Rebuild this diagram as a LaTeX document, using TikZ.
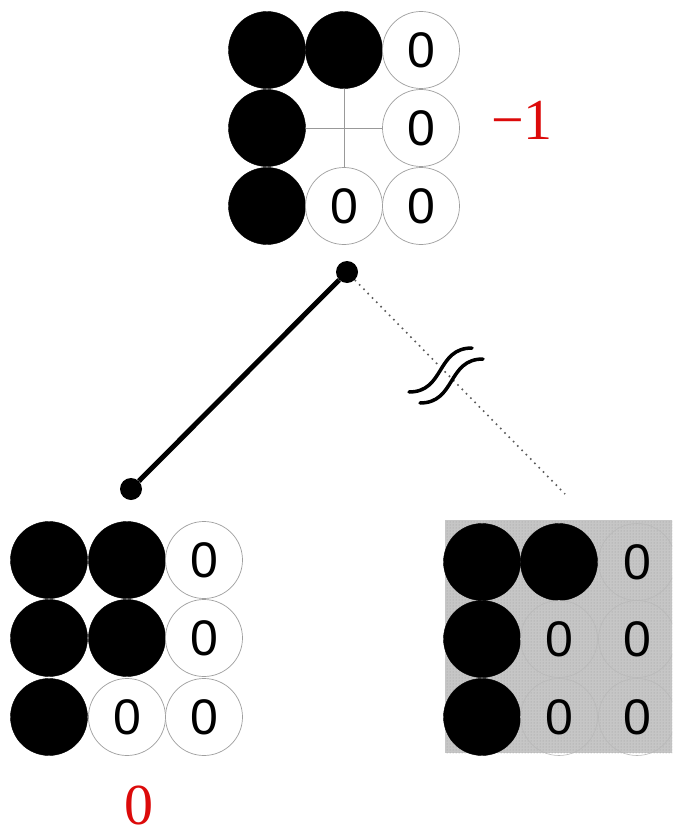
\documentclass[tikz,border=0pt]{standalone}
\usepackage{fontspec}
\setmainfont{Liberation Serif}
\newfontfamily\digitfont{Liberation Sans}
\usetikzlibrary{patterns}
\definecolor{lblred}{RGB}{220,10,10}
\begin{document}
\begin{tikzpicture}[x=1pt,y=-1pt,
  blk/.style={circle,minimum size=77pt,inner sep=0pt,fill=black,draw=black},
  wht/.style={circle,minimum size=77pt,inner sep=0pt,fill=white,draw=gray!75,line width=0.7pt,font=\digitfont\fontsize{50}{50}\selectfont},
  shd/.style={circle,minimum size=77pt,inner sep=0pt,draw=gray!55,line width=0.6pt,font=\digitfont\fontsize{50}{50}\selectfont},
  knot/.style={circle,fill=black,minimum size=22pt,inner sep=0pt},
  lbl/.style={text=lblred,font=\fontsize{58}{58}\selectfont,inner sep=0pt},
  thinline/.style={draw=gray!80,line width=0.8pt}]
\useasboundingbox (0,0) rectangle (672,837);
\clip (0,0) rectangle (672,837);
% top grid
\node[blk] (t11) at (267,50) {};
\node[blk] (t12) at (344,50) {};
\node[wht] (t13) at (421,50) {0};
\node[blk] (t21) at (267,128) {};
\node[wht] (t23) at (421,128) {0};
\node[blk] (t31) at (267,206) {};
\node[wht] (t32) at (344,206) {0};
\node[wht] (t33) at (421,206) {0};
\draw[thinline] (t12) -- (t32);
\draw[thinline] (t21) -- (t23);
\node[lbl] (lt) at (522,120) {−1};
% bottom-left grid
\node[blk] (l11) at (49,560) {};
\node[blk] (l12) at (127,560) {};
\node[wht] (l13) at (204,560) {0};
\node[blk] (l21) at (49,638) {};
\node[blk] (l22) at (127,638) {};
\node[wht] (l23) at (204,638) {0};
\node[blk] (l31) at (49,717) {};
\node[wht] (l32) at (127,717) {0};
\node[wht] (l33) at (204,717) {0};
\node[lbl] (ll) at (139,805) {0};
% bottom-right grid (shaded)
\fill[gray!45] (445,520) rectangle (700,753);
\fill[pattern=dots,pattern color=gray!80] (445,520) rectangle (700,753);
\node[blk] (r11) at (482,562) {};
\node[blk] (r12) at (559,562) {};
\node[shd] (r13) at (637,562) {0};
\node[blk] (r21) at (482,639) {};
\node[shd] (r22) at (559,639) {0};
\node[shd] (r23) at (637,639) {0};
\node[blk] (r31) at (482,717) {};
\node[shd] (r32) at (559,717) {0};
\node[shd] (r33) at (637,717) {0};
% tree
\node[knot] (top) at (347,272) {};
\node[knot] (left) at (131,489) {};
\coordinate (rend) at (565,494);
\draw[line width=5pt] (top) -- (left);
\draw[gray!70!black,line width=1.6pt,dash pattern=on 1.6pt off 4.5pt] (top) -- (rend);
% break mark
\draw[line width=3.5pt,line cap=round] (409,392) .. controls (445,392) and (436,348) .. (472,348);
\draw[line width=3.5pt,line cap=round] (420,403) .. controls (456,403) and (447,359) .. (483,359);
\end{tikzpicture}
\end{document}
